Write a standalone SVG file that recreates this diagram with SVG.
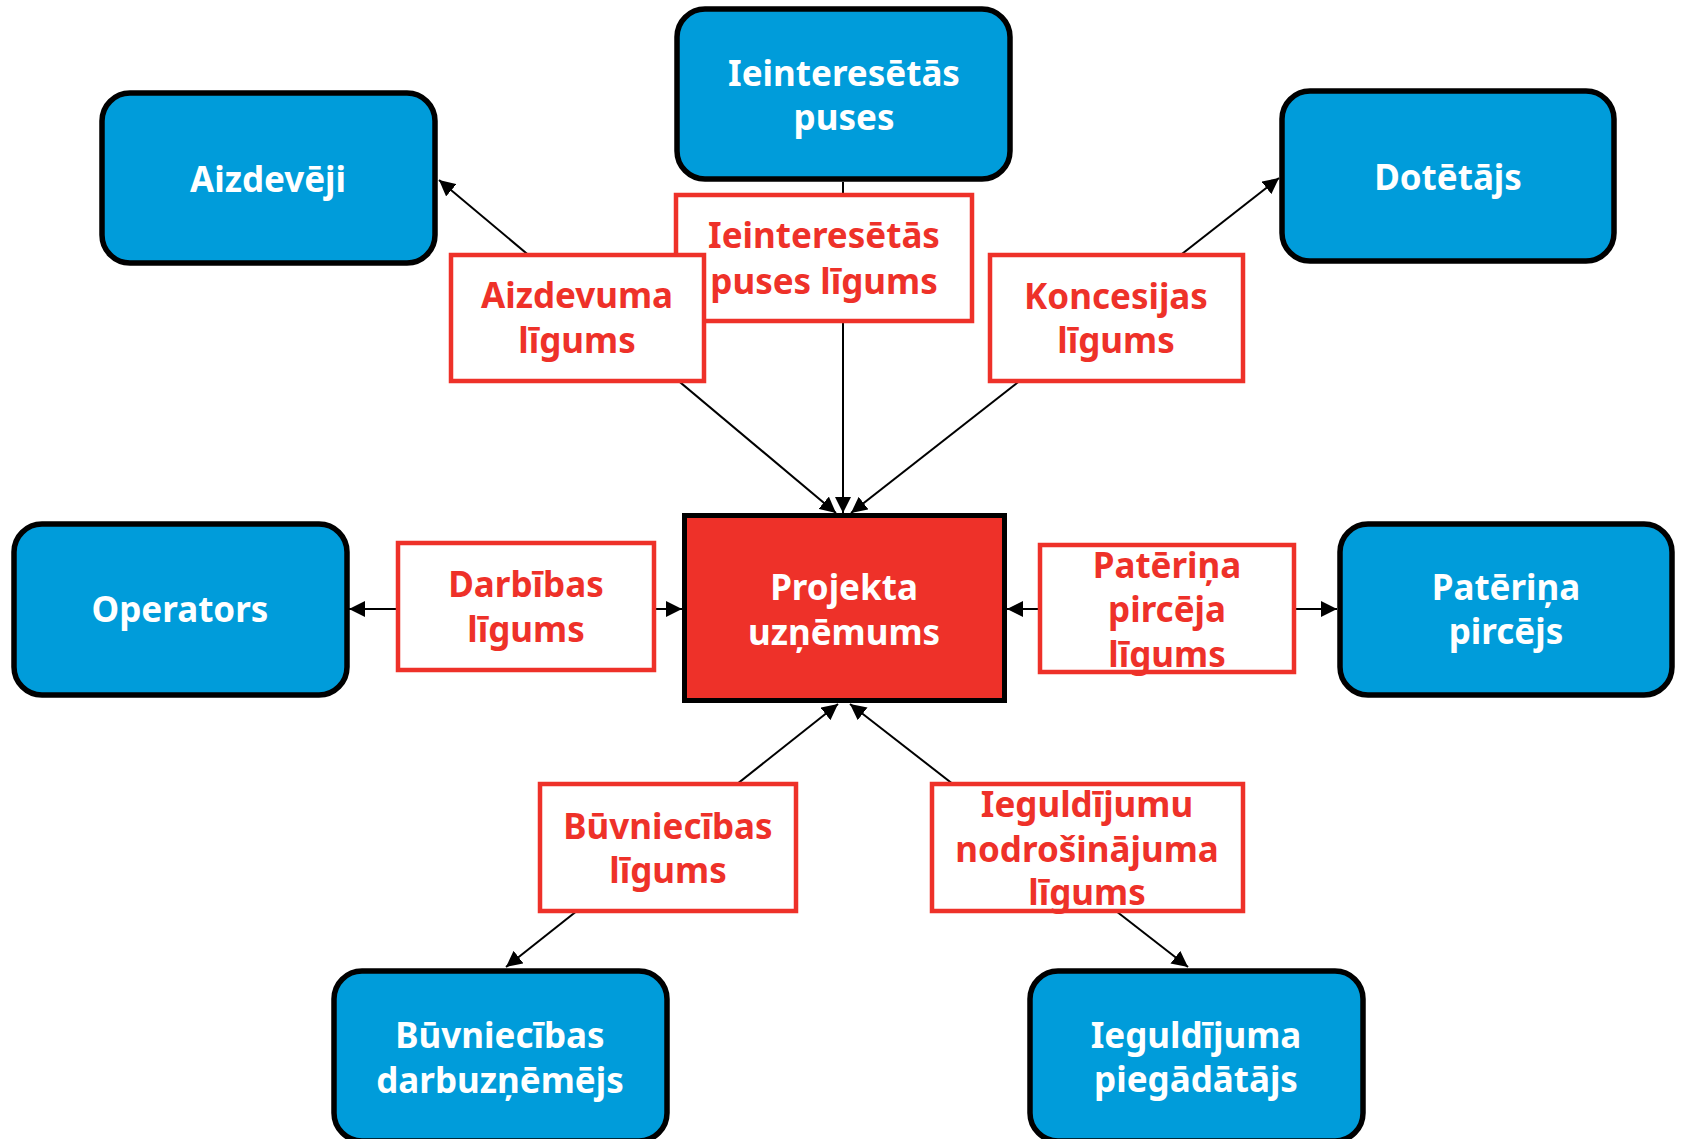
<svg xmlns="http://www.w3.org/2000/svg" width="1683" height="1139" viewBox="0 0 1683 1139">
  <style>
    .party rect { fill: #009cda; stroke: #000; stroke-width: 5.5; }
    .party text { fill: #fff; }
    .hub rect { fill: #ee3129; stroke: #000; stroke-width: 5; }
    .hub text { fill: #fff; }
    .contract rect { fill: #fff; stroke: #ee3129; stroke-width: 4.5; }
    .contract text { fill: #ee3129; }
    text { font-family: "Noto Sans", "Open Sans", "Liberation Sans", sans-serif; font-weight: 700; font-size: 35px; text-anchor: middle; }
    .link { stroke: #000; stroke-width: 2; fill: none; }
    .both { marker-start: url(#arrow); marker-end: url(#arrow); }
    .one { marker-end: url(#arrow); }
  </style>
  <defs>
    <marker id="arrow" markerUnits="userSpaceOnUse" markerWidth="17" markerHeight="16" refX="16" refY="8" orient="auto-start-reverse">
      <path d="M0,0 L16,8 L0,16 z" fill="#000"/>
    </marker>
  </defs>
  <rect width="1683" height="1139" fill="#fff"/>

  <!-- connectors: drawn first so the contract boxes sit over them -->
  <g id="connectors">
    <line class="link both" x1="836" y1="513" x2="439" y2="180"/>
    <line class="link one" x1="843" y1="182" x2="843" y2="513"/>
    <line class="link both" x1="851" y1="513" x2="1279" y2="178"/>
    <line class="link both" x1="682" y1="609" x2="349" y2="609"/>
    <line class="link both" x1="1007" y1="609" x2="1337" y2="609"/>
    <line class="link both" x1="838" y1="704" x2="506" y2="967"/>
    <line class="link both" x1="850" y1="704" x2="1188" y2="967"/>
  </g>

  <!-- contract labels -->
  <g id="contract-ieinteresetas" class="contract">
    <rect x="676" y="195" width="296" height="126"/>
    <text x="824" y="248">Ieinteresētās</text>
    <text x="824" y="294">puses līgums</text>
  </g>
  <g id="contract-aizdevuma" class="contract">
    <rect x="451" y="255" width="253" height="126"/>
    <text x="577" y="308">Aizdevuma</text>
    <text x="577" y="353">līgums</text>
  </g>
  <g id="contract-koncesijas" class="contract">
    <rect x="990" y="255" width="253" height="126"/>
    <text x="1116" y="309">Koncesijas</text>
    <text x="1116" y="353">līgums</text>
  </g>
  <g id="contract-darbibas" class="contract">
    <rect x="398" y="543" width="256" height="127"/>
    <text x="526" y="597">Darbības</text>
    <text x="526" y="642">līgums</text>
  </g>
  <g id="contract-pateerina" class="contract">
    <rect x="1040" y="545" width="254" height="127"/>
    <text x="1167" y="578">Patēriņa</text>
    <text x="1167" y="622">pircēja</text>
    <text x="1167" y="667">līgums</text>
  </g>
  <g id="contract-buvniecibas" class="contract">
    <rect x="540" y="784" width="256" height="127"/>
    <text x="668" y="839">Būvniecības</text>
    <text x="668" y="883">līgums</text>
  </g>
  <g id="contract-ieguldijumu" class="contract">
    <rect x="932" y="784" width="311" height="127"/>
    <text x="1087" y="817">Ieguldījumu</text>
    <text x="1087" y="862">nodrošinājuma</text>
    <text x="1087" y="905">līgums</text>
  </g>

  <!-- central project company -->
  <g id="node-projekta" class="hub">
    <rect x="684.5" y="515.5" width="320" height="185"/>
    <text x="844" y="600">Projekta</text>
    <text x="844" y="645">uzņēmums</text>
  </g>

  <!-- parties -->
  <g id="node-ieinteresetas" class="party">
    <rect x="677" y="9" width="333" height="170" rx="28"/>
    <text x="844" y="86">Ieinteresētās</text>
    <text x="844" y="130">puses</text>
  </g>
  <g id="node-aizdeveji" class="party">
    <rect x="102" y="93" width="333" height="170" rx="28"/>
    <text x="268" y="192">Aizdevēji</text>
  </g>
  <g id="node-dotetajs" class="party">
    <rect x="1282" y="91" width="332" height="170" rx="28"/>
    <text x="1448" y="190">Dotētājs</text>
  </g>
  <g id="node-operators" class="party">
    <rect x="14" y="524" width="333" height="171" rx="28"/>
    <text x="180" y="622">Operators</text>
  </g>
  <g id="node-pateerina" class="party">
    <rect x="1340" y="524" width="332" height="171" rx="28"/>
    <text x="1506" y="600">Patēriņa</text>
    <text x="1506" y="644">pircējs</text>
  </g>
  <g id="node-buvniecibas" class="party">
    <rect x="334" y="971" width="333" height="170" rx="28"/>
    <text x="500" y="1048">Būvniecības</text>
    <text x="500" y="1093">darbuzņēmējs</text>
  </g>
  <g id="node-ieguldijuma" class="party">
    <rect x="1030" y="971" width="333" height="170" rx="28"/>
    <text x="1196" y="1048">Ieguldījuma</text>
    <text x="1196" y="1092">piegādātājs</text>
  </g>
</svg>
